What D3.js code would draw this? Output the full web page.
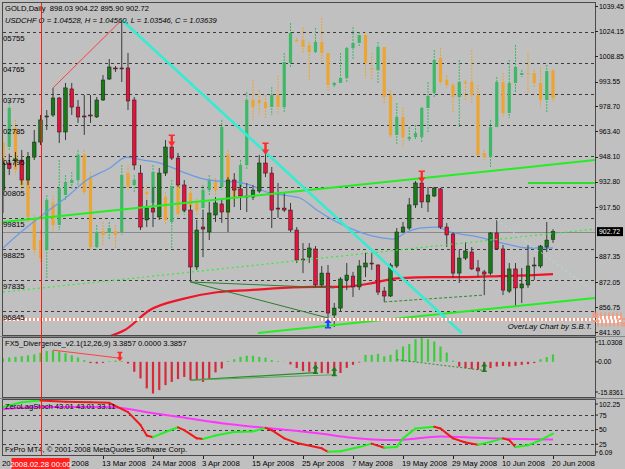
<!DOCTYPE html>
<html><head><meta charset="utf-8">
<script src="https://cdn.jsdelivr.net/npm/d3@7"></script>
<style>
body{margin:0;background:#c0c0c0;overflow:hidden}
svg{display:block}
text{font-family:"Liberation Sans",Arial,sans-serif;fill:#000}
</style></head>
<body><svg id="c" width="625" height="469"></svg>
<script>
// ---------------- DATA ----------------
const goldOpen = [927.9,944.3,946.0,946.1,934.0,947.9,957.0,972.2,973.4,983.7, 963.1,989.2,978.2,972.8,973.4,972.2,982.5,995.2,1001.9,1001.9, 1001.9,982.5,938.2,909.8,917.0,911.6,938.2,954.0,947.3,931.0, 915.8,881.3,905.5,902.5,912.8,919.5,914.6,934.0,928.6,924.3, 923.7,927.3,944.3,938.2,917.0,917.0,915.8,903.7,886.1,887.3, 892.2,870.4,877.6,852.2,856.4,873.4,875.8,869.2,881.3,883.7, 882.5,866.7,863.7,881.9,902.5,904.9,918.9,932.2,920.7,924.3, 928.6,905.5,901.3,877.6,886.7,890.4,880.7,878.3,877.6,901.9, 892.2,866.7,880.1,868.6,870.4,881.9,881.9,893.4,898.03];
const goldHigh = [947.3,950.0,951.0,952.2,951.0,964.3,973.4,976.4,989.8,984.3, 992.8,992.8,982.5,985.5,985.5,984.3,997.6,1007.3,1003.1,1031.0, 1011.0,984.3,943.1,921.9,929.8,941.3,958.2,957.0,950.4,934.0, 918.9,909.8,915.8,920.7,923.7,921.9,935.8,938.2,931.0,932.2, 931.0,949.2,952.2,941.9,932.2,926.0,920.1,905.5,895.8,895.8, 894.0,881.9,882.5,859.5,875.2,883.7,878.3,885.5,889.9,889.9, 883.0,869.2,883.7,904.9,908.6,923.1,933.4,935.2,929.8,929.8, 929.2,907.9,902.5,891.6,896.4,893.4,885.5,879.5,902.5,909.8, 894.6,883.7,883.7,880.7,894.6,887.3,894.6,908.6,904.22];
const goldLow = [914.0,937.0,942.0,931.0,931.0,946.1,955.2,964.3,972.2,956.4, 958.2,973.4,968.6,961.3,968.6,971.6,981.9,994.6,999.5,993.4, 976.4,940.1,903.7,905.5,905.5,909.8,936.4,946.1,929.8,914.6, 872.2,879.5,887.3,897.6,908.6,908.0,902.5,917.6,915.8,914.6, 921.9,926.1,935.8,904.9,911.0,914.6,902.5,883.7,877.6,883.7, 869.2,869.2,850.4,844.9,854.6,867.3,863.1,867.3,875.2,879.5, 864.3,860.1,863.1,880.7,901.9,903.7,917.0,917.0,914.6,923.7, 904.3,893.4,874.6,871.6,885.5,879.5,875.2,864.3,876.4,891.6, 864.3,865.5,857.0,859.5,868.6,873.4,880.7,890.4,895.90];
const goldClose = [944.3,941.0,946.8,934.0,947.9,957.0,970.4,972.8,983.7,963.1, 989.8,978.2,972.2,972.2,973.1,982.5,994.6,1002.5,1001.6,1001.3, 981.9,943.1,905.5,917.0,914.6,938.2,954.0,947.3,931.0,915.8, 881.3,903.7,904.3,914.0,920.1,914.6,934.0,927.9,924.3,924.0, 927.9,944.3,938.2,915.8,916.7,915.8,903.7,885.5,885.5,892.8, 870.4,877.6,853.4,856.4,874.0,876.4,869.2,881.9,883.7,883.4, 866.1,863.7,882.5,902.5,905.5,918.9,932.2,920.7,924.9,929.2, 905.5,900.7,877.6,886.7,891.0,880.1,878.9,877.0,901.9,892.2, 867.3,880.1,868.6,871.0,881.9,882.5,894.0,897.6,902.72];

const chfOpen = [1.02242,1.02082,1.02689,1.01571,1.01028,0.99751,0.99112,0.98793,1.00293,0.99591, 1.00549,1.00932,1.01028,1.01827,1.01092,0.98888,0.99399,0.99335,0.99399,0.99367, 1.01252,1.00868,1.00932,1.00645,1.00293,1.01124,1.00485,0.99687,1.00836,1.00006, 1.00613,1.00293,1.00134,1.00709,1.00964,1.00805,1.01827,1.00932,1.00805,1.01507, 1.03583,1.03583,1.03519,1.03360,1.03743,1.03360,1.04765,1.05500,1.05500,1.05340, 1.05116,1.05436,1.05084,1.04062,1.04126,1.04286,1.05244,1.05404,1.05659,1.04605, 1.04541,1.05276,1.03743,1.02465,1.03040,1.02338,1.02401,1.02401,1.03328,1.03807, 1.04925,1.04222,1.04062,1.03679,1.04158,1.04158,1.03743,1.01891,1.01763,1.02721, 1.04158,1.03168,1.04126,1.04382,1.04446,1.04446,1.04126,1.03583,1.04528];
const chfHigh = [1.02465,1.03583,1.02944,1.01827,1.01188,0.99910,0.99431,1.00549,1.00549,1.01667, 1.01188,1.01284,1.01987,1.01987,1.01284,0.99591,0.99687,0.99687,0.99591,1.01507, 1.01507,1.01188,1.01092,1.00868,1.01507,1.01284,1.00645,1.01028,1.01028,1.00709, 1.00773,1.00453,1.00868,1.01188,1.01092,1.02944,1.01987,1.01092,1.01667,1.03839, 1.04222,1.03902,1.03743,1.03998,1.04382,1.05084,1.06042,1.05564,1.05915,1.05436, 1.05883,1.06202,1.05084,1.04158,1.05084,1.05276,1.05915,1.05755,1.05755,1.05084, 1.05436,1.05276,1.03902,1.03487,1.03360,1.02721,1.02785,1.03360,1.04158,1.05180, 1.05244,1.04382,1.04126,1.04861,1.04222,1.05180,1.04062,1.01987,1.02944,1.04317, 1.04446,1.04861,1.05340,1.04541,1.05116,1.04541,1.04637,1.04701,1.04560];
const chfLow = [1.01348,1.01987,1.01188,1.00709,0.99687,0.98633,0.98409,0.97898,0.99367,0.99431, 1.00389,1.00709,1.00868,1.00549,0.98793,0.98793,0.98952,0.99112,0.98856,0.99272, 1.00709,1.00645,1.00485,1.00389,1.00134,1.00293,0.99591,0.98856,0.99846,0.99910, 1.00006,0.99910,1.00006,1.00549,1.00549,1.00709,0.99910,1.00229,1.00645,1.01348, 1.02944,1.03104,1.03008,1.03104,1.03104,1.03168,1.04605,1.05436,1.05084,1.04222, 1.05084,1.04765,1.03839,1.03998,1.04126,1.04126,1.04861,1.05276,1.04286,1.04222, 1.04126,1.03487,1.02401,1.02146,1.02082,1.02242,1.02306,1.02242,1.02529,1.03679, 1.04062,1.03966,1.03200,1.02721,1.03583,1.03487,1.01763,1.01667,1.01443,1.02689, 1.03040,1.03008,1.03807,1.04318,1.03807,1.03998,1.03360,1.03168,1.03546];
const chfClose = [1.01571,1.03328,1.01348,1.00868,0.99846,0.98793,0.98537,1.00389,0.99591,1.00773, 1.00964,1.01028,1.01827,1.00645,0.98888,0.99367,0.99272,0.99495,0.99272,1.01188, 1.00805,1.01028,1.00709,1.00581,1.01284,1.00485,0.99751,1.00836,0.99942,1.00549, 1.00166,1.00070,1.00709,1.01028,1.00709,1.02721,0.99974,1.00485,1.01507,1.03583, 1.03360,1.03487,1.03328,1.03743,1.03360,1.04797,1.05723,1.05490,1.05276,1.05116, 1.05436,1.05084,1.04062,1.04126,1.04286,1.05244,1.05404,1.05659,1.04765,1.04573, 1.05276,1.03679,1.02465,1.03040,1.02401,1.02401,1.02529,1.03328,1.03711,1.04861, 1.04158,1.04062,1.03679,1.04158,1.04126,1.03743,1.01827,1.01763,1.02721,1.04158, 1.03168,1.04126,1.04637,1.04446,1.04414,1.04126,1.03583,1.04509,1.03639];

const macdHist = [1.5,2.0,2.3,2.6,3.0,3.4,4.2,5.0,5.3,4.8, 4.0,3.0,2.0,0.8,-0.6,-0.8,-0.5,0.3,0.6,0.4, -0.8,-4.6,-7.7,-12.3,-14.7,-13.1,-10.8,-9.3,-8.0,-7.0, -8.5,-8.5,-9.3,-7.7,-4.9,-3.1,0.4,1.2,2.3,2.8, 2.8,2.3,1.9,0.8,0.3,0.1,-1.2,-2.9,-4.3,-4.6, -5.0,-5.2,-5.4,-6.0,-5.2,-2.8,-1.4,-0.3,3.2,3.2, 3.7,2.5,3.2,5.6,7.1,8.2,10.5,11.0,10.5,9.4, 7.1,4.3,0.5,-2.2,-2.9,-3.4,-3.7,-4.0,-2.9,-2.2, -1.9,-2.2,-1.9,-1.4,-1.1,-0.6,1.2,2.2,3.39];

// [bar, value]
const stochMain = [[0,89],[3,97],[6,100],[10,98],[14,97],[17,96],[20,80],[22,58],[23,40],[24,37],[26,46],[28,54],[29,49],[31,35],[32,34],[34,40],[37,46],[40,47],[42,53],[43,49],[45,35],[47,27],[51,18],[52,12],[54,13],[57,20],[59,26],[61,19],[63,20],[64,35],[66,52],[69,55],[70,52],[72,35],[74,28],[76,24],[78,29],[80,35],[81,32],[82,20],[84,23],[86,32],[88,43.01]];
const stochSignal = [[0,85],[6,89],[17,89],[23,80],[28,72],[35,61],[40,55],[46,49],[51,43],[55,37],[63,32],[70,38],[76,36],[82,34],[88,33.11]];

const maBlue = [[0,892.8],[2.7,901.9],[5.9,911.6],[10.2,923.7],[13.4,934.0],[17.1,941.3],[19.8,947.9],[22.4,946.1],[25.1,944.3],[28.8,938.8],[31.5,935.2],[34.2,933.4],[37.4,932.8],[39.5,931.0],[42.2,926.7],[44.8,924.9],[47.5,923.1],[50.2,915.8],[52.8,909.8],[55.5,904.9],[59.8,899.5],[62.4,898.2],[64.6,902.5],[66.7,904.9],[69.4,905.5],[71.5,902.5],[75.2,900.1],[77.4,898.2],[80.6,895.2],[83.8,892.8],[88,892.8]];
const maRed = [[17.2,839.5],[19.5,843.1],[23.5,855.2],[28.8,862.0],[34.2,866.0],[39.5,867.3],[44.8,868.6],[50.2,869.2],[54.4,869.2],[58.2,871.0],[63.5,874.6],[68.8,875.2],[74.2,875.2],[79.5,875.8],[84.8,876.4],[88,877.0]];

// drawn objects: [bar, price]
const limeUpper = [[0,908.5],[94.7,946.1]];
const limeLower = [[40.8,841.3],[94.7,862.5]];
const limeShort = [[84,932.2],[94.7,932.2]];
const limeDotted = [[0,866.1],[94.7,904.3]];
const cyanLine = [[19,1031.0],[73.4,841.3]];
const cyanDotted = [[79,909.8],[94,868.0]];
const redThin = [[8,989.8],[19,1031.0]];
const divMain1 = [[30,872.2],[52,850.4]];
const divMain2 = [[30,872.2],[53,868.6]];
const divMain3 = [[61,860.1],[77,864.3]];
const alertLevel = 850.0;
const downArrowBars = [27,42,67];
const upArrowBars = [52];
const macdRedLine = [[8,5.4],[18.7,1.7]];
const macdDiv1 = [[30,-8.5],[50,-5.0]];
const macdDiv2 = [[30,-8.5],[53,-6.0]];
const macdDiv3 = [[63,1.0],[77,-4.0]];
const macdUpArrows = [[50,-5.0],[53,-6.0],[77,-4.0]];
const macdDownArrow = [18.7,1.7];

const priceTicks = [1039.45,1024.15,1008.85,993.55,978.70,963.40,948.10,932.80,917.50,887.35,872.05,856.75,841.90];
const chfGrid = [1.05755,1.04765,1.03775,1.02785,1.01795,1.00805,0.99815,0.98825,0.97835,0.96845];
const chfGridLabels = ["05755","04765","03775","02785","01795","00805","99815","98825","97835","96845"];
const macdTicks = [11.0308,0,-15.8361];
const macdTickLabels = ["11.0308","0.00","-15.8361"];
const stochTicks = [102.25,75,50,25,6.09];
const stochTickLabels = ["102.25","75","50","25","6.09"];
const stochLevels = [75,50,25];
// labels partly hidden by the cursor date box: only their visible parts are written
const timeLabelBars = [0,8,16,24,32,40,48,56,64,72,80,88];
const timeLabelTexts = ["20","2008","13 Mar 2008","24 Mar 2008","3 Apr 2008","15 Apr 2008","25 Apr 2008","7 May 2008","19 May 2008","29 May 2008","10 Jun 2008","20 Jun 2008"];
const cursorBar = 6;
const cursorLabel = "2008.02.28 00:00";

// ---------------- DRAW ----------------
const N = goldOpen.length;
const svg = d3.select("#c");
svg.append("rect").attr("width",625).attr("height",469).attr("fill","#c0c0c0");

const x = d3.scaleLinear().domain([0,88]).range([3,553]);
const yG = d3.scaleLinear().domain([841.90,1039.45]).range([332,6]);
const yC = d3.scaleLinear().domain([0.96845,1.05755]).range([311,32]);
const yM = d3.scaleLinear().domain([-15.8361,11.0308]).range([396,338]);
const yS = d3.scaleLinear().domain([6.09,102.25]).range([455.2,399.2]);

const defs = svg.append("defs");
function clip(id,x0,y0,w,h){defs.append("clipPath").attr("id",id).append("rect").attr("x",x0).attr("y",y0).attr("width",w).attr("height",h);}
clip("cm",3,3,592,332); clip("cd",3,338,592,59); clip("cs",3,400,592,55);

// frames
const frame = svg.append("g").attr("fill","none").attr("stroke","#4a4a4a");
frame.append("rect").attr("x",2.5).attr("y",2.5).attr("width",593).attr("height",333);
frame.append("rect").attr("x",2.5).attr("y",337.5).attr("width",593).attr("height",60);
frame.append("rect").attr("x",2.5).attr("y",399.5).attr("width",593).attr("height",56);
svg.append("line").attr("x1",0).attr("x2",625).attr("y1",336.5).attr("y2",336.5).attr("stroke","#888");
svg.append("line").attr("x1",0).attr("x2",625).attr("y1",398.5).attr("y2",398.5).attr("stroke","#888");

const gm = svg.append("g").attr("clip-path","url(#cm)");

// overlay grid (dashed)
gm.selectAll(".grid").data(chfGrid).join("line")
  .attr("x1",3).attr("x2",595).attr("y1",d=>Math.round(yC(d))+0.5).attr("y2",d=>Math.round(yC(d))+0.5)
  .attr("stroke","#3c3c3c").attr("stroke-dasharray","3,3");

// current price line
gm.append("line").attr("x1",3).attr("x2",595)
  .attr("y1",Math.round(yG(goldClose[N-1]))+0.5).attr("y2",Math.round(yG(goldClose[N-1]))+0.5)
  .attr("stroke","#8a8a8a");

const idx = d3.range(N);
// USDCHF overlay candles
const chfUp = "#3db866", chfDn = "#eca532";
gm.selectAll(".cw").data(idx).join("line")
  .attr("x1",i=>x(i)).attr("x2",i=>x(i))
  .attr("y1",i=>yC(chfHigh[i])).attr("y2",i=>yC(chfLow[i]))
  .attr("stroke",i=>chfClose[i]>=chfOpen[i]?chfUp:chfDn).attr("stroke-width",1).attr("stroke-dasharray","2,1");
gm.selectAll(".cb").data(idx).join("rect")
  .attr("x",i=>x(i)-1.6).attr("width",3.2)
  .attr("y",i=>Math.min(yC(chfOpen[i]),yC(chfClose[i])))
  .attr("height",i=>Math.max(1.2,Math.abs(yC(chfOpen[i])-yC(chfClose[i]))))
  .attr("fill",i=>chfClose[i]>=chfOpen[i]?chfUp:chfDn);

// moving averages
const lineG = d3.line().x(d=>x(d[0])).y(d=>yG(d[1])).curve(d3.curveMonotoneX);
gm.append("path").attr("d",lineG(maBlue)).attr("fill","none").attr("stroke","#6b9be3").attr("stroke-width",1.3);
gm.append("path").attr("d",lineG(maRed)).attr("fill","none").attr("stroke","#f01428").attr("stroke-width",2.2);

// gold candles
const gUp = "#167a16", gDn = "#e5123c";
gm.selectAll(".gw").data(idx).join("line")
  .attr("x1",i=>x(i)).attr("x2",i=>x(i))
  .attr("y1",i=>yG(goldHigh[i])).attr("y2",i=>yG(goldLow[i]))
  .attr("stroke","#3a3a3a").attr("stroke-width",1);
gm.selectAll(".gb").data(idx).join("rect")
  .attr("x",i=>x(i)-1.8).attr("width",3.6)
  .attr("y",i=>Math.min(yG(goldOpen[i]),yG(goldClose[i])))
  .attr("height",i=>Math.max(1,Math.abs(yG(goldOpen[i])-yG(goldClose[i]))))
  .attr("fill",i=>goldClose[i]>=goldOpen[i]?gUp:gDn)
  .attr("stroke","#1a1a1a").attr("stroke-width",0.5);

// drawn lines
const lineP = d3.line().x(d=>x(d[0])).y(d=>yG(d[1]));
function seg(g,data,color,w,dash,lf){const p=g.append("path").attr("d",(lf||lineP)(data)).attr("fill","none").attr("stroke",color).attr("stroke-width",w); if(dash)p.attr("stroke-dasharray",dash); return p;}
seg(gm,limeDotted,"#30ee30",1.2,"2,3");
seg(gm,limeUpper,"#22ee22",2);
seg(gm,limeLower,"#22ee22",2);
seg(gm,limeShort,"#2ee02e",2);
seg(gm,divMain1,"#2c7d2c",1);
seg(gm,divMain2,"#2c7d2c",1);
seg(gm,divMain3,"#2c8a2c",1,"3,2");
seg(gm,redThin,"#ff4040",1);
seg(gm,cyanDotted,"#a6e4ea",1,"2,3");
seg(gm,cyanLine,"#35ecd2",2.6);

// alert level (salmon checkered line)
const ya = Math.round(yG(alertLevel))+0.5;
gm.append("line").attr("x1",3).attr("x2",595).attr("y1",ya).attr("y2",ya).attr("stroke","#ffffff").attr("stroke-width",3);
gm.append("line").attr("x1",3).attr("x2",595).attr("y1",ya).attr("y2",ya).attr("stroke","#f39a7e").attr("stroke-width",3).attr("stroke-dasharray","2,2");

// arrows
function arrow(cx,tip,dir,len,hw){ // dir 1: pointing down, -1: pointing up
  const base = tip - dir*len, head = tip - dir*len*0.5;
  return `M${cx-1.2},${base}L${cx+1.2},${base}L${cx+1.2},${head}L${cx+hw},${head}L${cx},${tip}L${cx-hw},${head}L${cx-1.2},${head}Z`+
         `M${cx-hw+0.5},${base}L${cx+hw-0.5},${base}L${cx+hw-0.5},${base-dir*1.5}L${cx-hw+0.5},${base-dir*1.5}Z`;
}
gm.selectAll(".da").data(downArrowBars).join("path")
  .attr("d",b=>arrow(x(b),yG(goldHigh[b])+5,1,11,3.6)).attr("fill","#ff2a2a");
gm.selectAll(".ua").data(upArrowBars).join("path")
  .attr("d",b=>arrow(x(b),yG(goldLow[b])+1,-1,8,3.6)).attr("fill","#2046ff");

// header text
svg.append("text").attr("x",5).attr("y",11).attr("font-size",7.6).style("white-space","pre")
  .text("GOLD,Daily  " + [goldOpen[N-1],goldHigh[N-1],goldLow[N-1],goldClose[N-1]].map(v=>v.toFixed(2)).join(" "));
svg.append("text").attr("x",5).attr("y",23).attr("font-size",7.6).attr("font-style","italic")
  .text("USDCHF O = 1.04528, H = 1.04560, L = 1.03546, C = 1.03639");
gm.selectAll(".gl").data(chfGrid).join("text")
  .attr("x",3).attr("y",d=>yC(d)+9).attr("font-size",7.8).text((d,i)=>chfGridLabels[i]);
svg.append("text").attr("x",592).attr("y",329).attr("text-anchor","end").attr("font-size",7.8).attr("font-style","italic").text("OverLay Chart by S.B.T.");

// right axis (price)
const RF = 6.9;
const ax = svg.append("g");
ax.selectAll(".pt").data(priceTicks).join("line").attr("x1",595).attr("x2",598).attr("y1",d=>Math.round(yG(d))+0.5).attr("y2",d=>Math.round(yG(d))+0.5).attr("stroke","#222");
ax.selectAll(".pl").data(priceTicks).join("text").attr("x",599).attr("y",d=>yG(d)+2.5).attr("font-size",RF).text(d=>d.toFixed(2));
const yc = yG(goldClose[N-1]);
ax.append("rect").attr("x",597).attr("y",yc-4.5).attr("width",26).attr("height",9).attr("fill","#000");
ax.append("text").attr("x",599).attr("y",yc+2.5).attr("font-size",RF).style("fill","#fff").text(goldClose[N-1].toFixed(2));
ax.append("rect").attr("x",596).attr("y",ya-3.5).attr("width",26).attr("height",7).attr("fill","#fff");
ax.append("rect").attr("x",596).attr("y",ya-3.5).attr("width",26).attr("height",7).attr("fill","none").attr("stroke","#f39a7e").attr("stroke-width",7).attr("stroke-dasharray","2,2").attr("opacity",0.9);

// ---------- MACD panel ----------
const gd = svg.append("g").attr("clip-path","url(#cd)");
gd.selectAll(".mh").data(idx).join("line")
  .attr("x1",i=>x(i)).attr("x2",i=>x(i))
  .attr("y1",yM(0)).attr("y2",i=>yM(macdHist[i]))
  .attr("stroke",i=>macdHist[i]>=0?"#3ccc3c":"#d42a3a").attr("stroke-width",2.2);
const lineM = d3.line().x(d=>x(d[0])).y(d=>yM(d[1]));
seg(gd,macdRedLine,"#ff4040",1,null,lineM);
seg(gd,macdDiv1,"#2f8a2f",1.2,null,lineM);
seg(gd,macdDiv2,"#5aa85a",1,null,lineM);
seg(gd,macdDiv3,"#2f8a2f",1,"2,2",lineM);
gd.selectAll(".mua").data(macdUpArrows).join("path")
  .attr("d",d=>arrow(x(d[0]),yM(d[1])-8,-1,8,3)).attr("fill","#1e7a1e");
gd.append("path").attr("d",arrow(x(macdDownArrow[0]),yM(macdDownArrow[1])+3,1,8,3)).attr("fill","#ff2a2a");
svg.append("text").attr("x",5).attr("y",346).attr("font-size",7.6)
  .text("FX5_Divergence_v2.1(12,26,9) 3.3857 0.0000 3.3857");
const mY = d=>Math.max(342,Math.min(392,yM(d)));
svg.selectAll(".ml").data(macdTicks).join("text").attr("x",598)
  .attr("y",d=>mY(d)+2.5).attr("font-size",(d,i)=>i===2?6.4:RF).text((d,i)=>macdTickLabels[i]);
svg.selectAll(".mt").data(macdTicks).join("line").attr("x1",595).attr("x2",598)
  .attr("y1",d=>mY(d)).attr("y2",d=>mY(d)).attr("stroke","#222");

// ---------- Stoch panel ----------
const gs = svg.append("g").attr("clip-path","url(#cs)");
gs.selectAll(".sl").data(stochLevels).join("line").attr("x1",3).attr("x2",595)
  .attr("y1",d=>Math.round(yS(d))+0.5).attr("y2",d=>Math.round(yS(d))+0.5)
  .attr("stroke","#3c3c3c").attr("stroke-dasharray","3,3");
const lineS = d3.line().x(d=>x(d[0])).y(d=>yS(d[1])).curve(d3.curveMonotoneX);
gs.append("path").attr("d",lineS(stochSignal)).attr("fill","none").attr("stroke","#ff36ff").attr("stroke-width",2);
const segs = d3.pairs(stochMain);
gs.selectAll(".ss").data(segs).join("path")
  .attr("d",p=>d3.line().x(d=>x(d[0])).y(d=>yS(d[1]))(p))
  .attr("fill","none").attr("stroke",p=>p[1][1]>=p[0][1]?"#22f022":"#f01818").attr("stroke-width",2).attr("stroke-linecap","round");
svg.append("text").attr("x",5).attr("y",409).attr("font-size",7.6).text("ZeroLagStoch 43.01 43.01 33.11");
svg.append("text").attr("x",5).attr("y",452).attr("font-size",7.6).text("FxPro MT4, \u00a9 2001-2008 MetaQuotes Software Corp.");
const sY = d=>Math.max(404,Math.min(452,yS(d)));
svg.selectAll(".stl").data(stochTicks).join("text").attr("x",599)
  .attr("y",d=>sY(d)+2.5).attr("font-size",RF).text((d,i)=>stochTickLabels[i]);
svg.selectAll(".stt").data(stochTicks).join("line").attr("x1",595).attr("x2",598)
  .attr("y1",d=>sY(d)).attr("y2",d=>sY(d)).attr("stroke","#222");

// ---------- time axis ----------
const tx = (b,i)=> i===1 ? x(cursorBar)+31 : x(b)-1;
svg.selectAll(".tt").data(timeLabelBars.slice(2)).join("line").attr("x1",b=>Math.round(x(b))+0.5).attr("x2",b=>Math.round(x(b))+0.5)
  .attr("y1",456).attr("y2",459).attr("stroke","#222");
svg.selectAll(".tl").data(timeLabelBars).join("text").attr("x",(b,i)=>i===0?2:tx(b,i)).attr("y",466).attr("font-size",7.8)
  .text((b,i)=>timeLabelTexts[i]);

// cursor
svg.append("line").attr("x1",Math.round(x(cursorBar))+0.5).attr("x2",Math.round(x(cursorBar))+0.5)
  .attr("y1",3).attr("y2",455).attr("stroke","#ff1a1a").attr("stroke-width",1);
svg.append("rect").attr("x",x(cursorBar)-29).attr("y",458).attr("width",58).attr("height",11).attr("fill","#ff2020");
svg.append("text").attr("x",x(cursorBar)).attr("y",466.5).attr("text-anchor","middle").attr("font-size",7.8).style("fill","#fff").text(cursorLabel);
</script></body></html>
